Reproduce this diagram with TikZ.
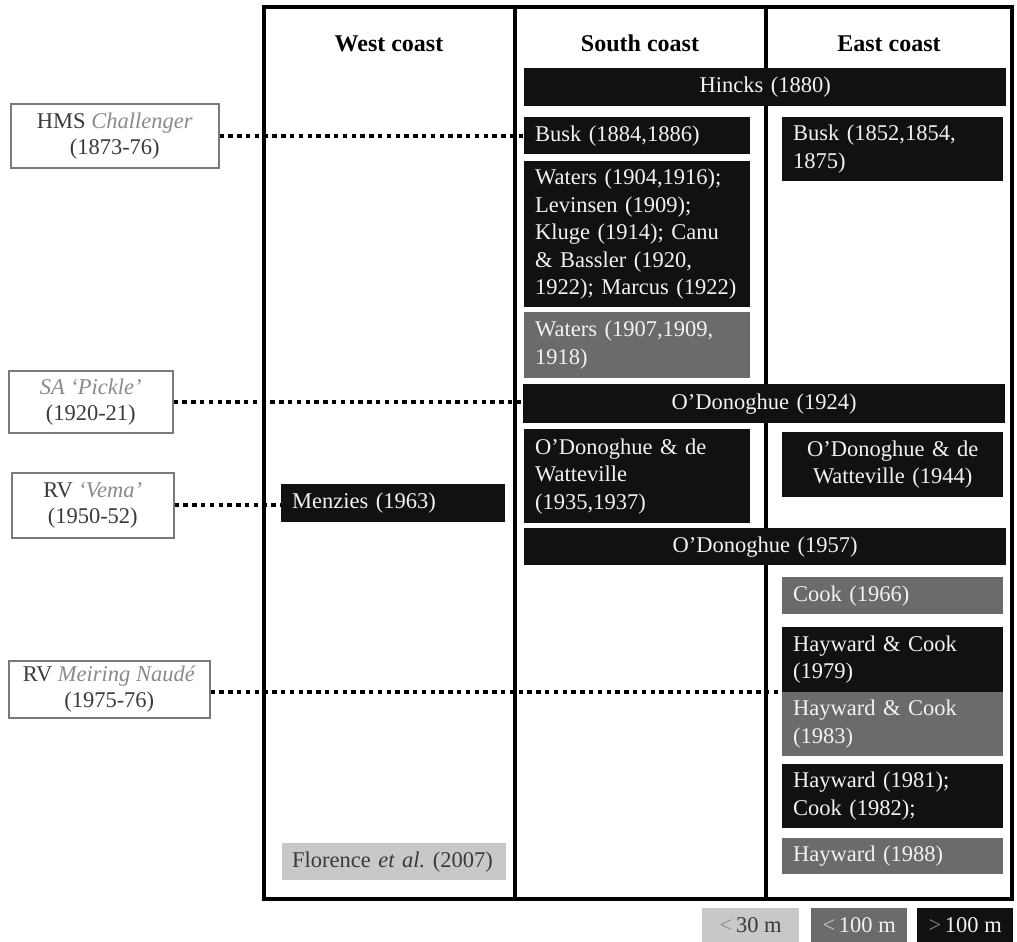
\documentclass[tikz,border=0pt]{standalone}
\usepackage{fontspec}
\setmainfont{Liberation Serif}
\frenchspacing
\definecolor{dkbox}{HTML}{111111}
\definecolor{mdbox}{HTML}{6B6B6B}
\definecolor{ltbox}{HTML}{C8C8C8}
\definecolor{txtw}{HTML}{F2F2F2}
\definecolor{lbltxt}{HTML}{3A3A3A}
\definecolor{lblit}{HTML}{8A8A8A}
\definecolor{lbldraw}{HTML}{7A7A7A}
\begin{document}
\begin{tikzpicture}[x=1pt,y=-1pt,
  every node/.style={font=\fontsize{22.5}{27.5}\selectfont},
  bx/.style={anchor=north west, inner xsep=11pt, inner ysep=0pt, align=left, text=txtw},
  dk/.style={bx, fill=dkbox},
  md/.style={bx, fill=mdbox},
  lt/.style={bx, fill=ltbox, text=lbltxt},
  sw/.style={minimum width=226, text width=204pt},
  ew/.style={minimum width=221, text width=199pt},
  fw/.style={minimum width=482, text width=460pt, align=center},
  ww/.style={minimum width=224, text width=202pt},
  ship/.style={draw=lbldraw, line width=1.5pt, fill=white, align=center, text=lbltxt, inner sep=0pt, anchor=north west, font=\fontsize{22.5}{26}\selectfont},
  dots/.style={line width=4pt, dash pattern=on 4.5pt off 4.3pt},
  head/.style={font=\fontsize{24}{28}\selectfont\bfseries, anchor=base, text=black},
  leg/.style={anchor=north west, inner sep=0pt, minimum height=34}
]
\fill[white] (0,0) rectangle (1017,942);
\useasboundingbox (0,0) rectangle (1017,942);
% frame and column dividers
\draw[line width=4pt] (264,7) rectangle (1012,899);
\draw[line width=3.5pt] (515,7) -- (515,899);
\draw[line width=3.5pt] (766,7) -- (766,899);
% headings
\node[head] (hw) at (389,52) {West coast};
\node[head] (hs) at (640,52) {South coast};
\node[head] (he) at (889,52) {East coast};
% ship labels
\node[ship, minimum width=208, minimum height=64] (chl) at (10,103) {HMS \textcolor{lblit}{\textit{Challenger}}\\(1873-76)};
\node[ship, minimum width=164, minimum height=62] (pck) at (8,370) {\textcolor{lblit}{\textit{SA `Pickle'}}\\(1920-21)};
\node[ship, minimum width=162, minimum height=65] (vem) at (11,472) {RV \textcolor{lblit}{\textit{`Vema'}}\\(1950-52)};
\node[ship, minimum width=201, minimum height=57] (mei) at (8,660) {RV \textcolor{lblit}{\textit{Meiring Naudé}}\\(1975-76)};
% boxes
\node[dk, fw, minimum height=38] (hin) at (524,68) {Hincks (1880)};
\node[dk, sw, minimum height=37] (bus) at (524,117) {Busk (1884,1886)};
\node[dk, ew, minimum height=64] (bue) at (782,117) {Busk (1852,1854,\\1875)};
\node[dk, sw, minimum height=146] (wat) at (524,161) {Waters (1904,1916);\\Levinsen (1909);\\Kluge (1914); Canu\\\& Bassler (1920,\\1922); Marcus (1922)};
\node[md, sw, minimum height=66] (wag) at (524,312) {Waters (1907,1909,\\1918)};
\node[dk, fw, minimum height=39] (o24) at (523,384) {O'Donoghue (1924)};
\node[dk, sw, minimum height=94] (ods) at (524,429) {O'Donoghue \& de\\Watteville\\(1935,1937)};
\node[dk, ew, align=center, minimum height=65] (ode) at (782,432) {O'Donoghue \& de\\Watteville (1944)};
\node[dk, ww, minimum height=38] (men) at (281,484) {Menzies (1963)};
\node[dk, fw, minimum height=37] (o57) at (524,528) {O'Donoghue (1957)};
\node[md, ew, minimum height=37] (c66) at (782,577) {Cook (1966)};
\node[dk, ew, minimum height=65] (h79) at (782,627) {Hayward \& Cook\\(1979)};
\node[md, ew, minimum height=64] (h83) at (782,692) {Hayward \& Cook\\(1983)};
\node[dk, ew, minimum height=64] (h81) at (782,764) {Hayward (1981);\\Cook (1982);};
\node[md, ew, minimum height=36] (h88) at (782,838) {Hayward (1988)};
\node[lt, minimum width=224, text width=216pt, inner xsep=4pt, minimum height=37] (flo) at (282,843) {\hspace*{6pt}Florence \textit{et al.}\ (2007)};
% dotted connectors
\draw[dots] (chl.east) -- (chl.east -| bus.west);
\draw[dots] (pck.east) -- (pck.east -| o24.west);
\draw[dots] (vem.east) -- (vem.east -| men.west);
\draw[dots] (mei.east |- h83.north) -- (h83.north west);
% legend
\node[leg, fill=ltbox, minimum width=97, text=lbltxt] (l1) at (702,908) {\textcolor{lblit}{<}\,30 m};
\node[leg, fill=mdbox, minimum width=96, text=txtw] (l2) at (811,908) {\textcolor{ltbox}{<}\,100 m};
\node[leg, fill=dkbox, minimum width=96, text=txtw] (l3) at (917,908) {\textcolor{lblit}{>}\,100 m};
\end{tikzpicture}
\end{document}
